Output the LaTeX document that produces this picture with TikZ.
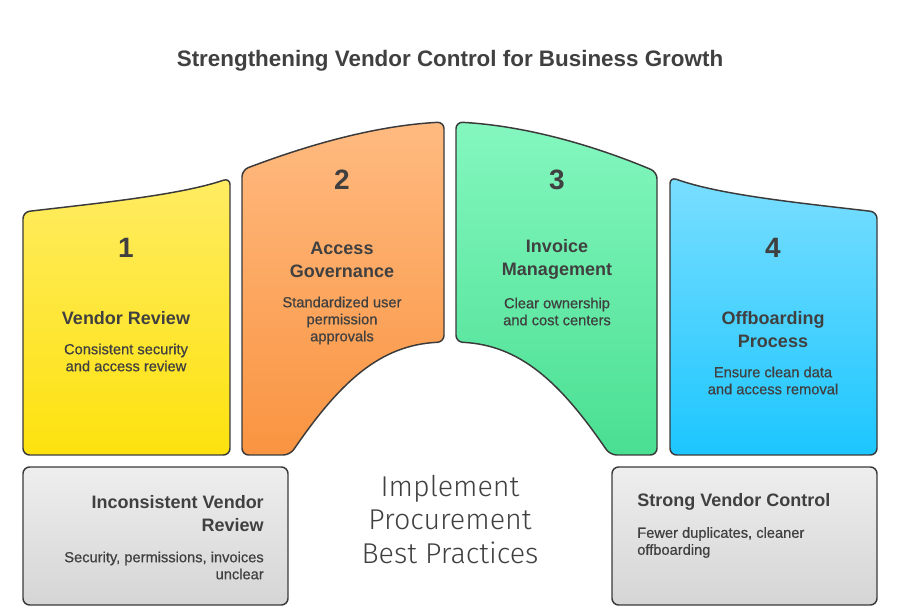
\documentclass[tikz,border=0pt]{standalone}
\usepackage{fontspec}
\setmainfont{Liberation Sans}
\newfontfamily\lightfont{Fira Sans Light}
\newfontfamily\mediumfont{Liberation Sans}[FakeBold=0.6]
\usepackage{tikz}
\usetikzlibrary{positioning}
\definecolor{ink}{HTML}{404040}
\definecolor{edge}{HTML}{3A3A3A}
\definecolor{yellowtop}{HTML}{FFEC62}
\definecolor{yellowbot}{HTML}{FDE20E}
\definecolor{orangetop}{HTML}{FFBA80}
\definecolor{orangebot}{HTML}{F99441}
\definecolor{greentop}{HTML}{84F7BF}
\definecolor{greenbot}{HTML}{4ADF92}
\definecolor{bluetop}{HTML}{7ADEFF}
\definecolor{bluebot}{HTML}{1CC6FF}
\definecolor{greytop}{HTML}{EEEEEE}
\definecolor{greybot}{HTML}{D5D5D5}

\tikzset{
  panel/.style={draw=edge, line width=1.1pt, rounded corners=5pt, line join=round},
  numtext/.style={text=ink, inner sep=0pt, font=\fontsize{21}{24}\selectfont\bfseries},
  headtext/.style={text=ink, inner sep=0pt, align=center, font=\fontsize{13.5}{17.25}\selectfont\bfseries},
  bodytext/.style={text=ink, inner sep=0pt, align=center, font=\fontsize{11}{12.75}\mediumfont}
}

\begin{document}
\begin{tikzpicture}[x=0.75pt, y=-0.75pt]
        \useasboundingbox (0,0) rectangle (900,609);
        % Title
        \node[text=ink, inner sep=0pt, font=\fontsize{16.8}{20}\selectfont\bfseries] (title) at (450,61)
          {Strengthening Vendor Control for Business Growth};
        % Panel 1
        \draw[panel, top color=yellowtop, bottom color=yellowbot]
          (23,212) .. controls (100,203) and (180,195) .. (230,178)
          -- (230,455) -- (23,455) -- cycle;
        % Panel 2
        \draw[panel, top color=orangetop, bottom color=orangebot]
          (242,170) .. controls (300,148) and (370,126) .. (444,122)
          -- (444,342) .. controls (380,345) and (340,382) .. (290,455)
          -- (242,455) -- cycle;
        % Panel 3
        \draw[panel, top color=greentop, bottom color=greenbot]
          (456,122) .. controls (530,126) and (600,148) .. (657,172)
          -- (657,455) -- (610,455) .. controls (560,382) and (520,345) .. (456,342)
          -- cycle;
        % Panel 4
        \draw[panel, top color=bluetop, bottom color=bluebot]
          (670,177) .. controls (720,195) and (800,203) .. (877,212)
          -- (877,455) -- (670,455) -- cycle;
        % Bottom boxes
        \draw[panel, top color=greytop, bottom color=greybot] (23,467) rectangle (288,605);
        \draw[panel, top color=greytop, bottom color=greybot] (612,467) rectangle (877,605);
        % Panel texts
        \node[numtext] (num1) at (126,248) {1};
        \node[headtext] (head1) at (126,318) {Vendor Review};
        \node[bodytext] (body1) at (126,357.5) {Consistent security\\and access review};
        \node[numtext] (num2) at (342,180) {2};
        \node[headtext] (head2) at (342,259.5) {Access\\Governance};
        \node[bodytext] (body2) at (342,320.5) {Standardized user\\permission\\approvals};
        \node[numtext] (num3) at (557,180) {3};
        \node[headtext] (head3) at (557,259.5) {Invoice\\Management};
        \node[bodytext] (body3) at (557,311.5) {Clear ownership\\and cost centers};
        \node[numtext] (num4) at (773,248) {4};
        \node[headtext] (head4) at (773,329.5) {Offboarding\\Process};
        \node[bodytext] (body4) at (773,380.5) {Ensure clean data\\and access removal};
        % Bottom texts
        \node[headtext, align=right, anchor=east] (before) at (264,513.5) {Inconsistent Vendor\\Review};
        \node[bodytext, align=right, anchor=east] (beforebody) at (264,565.5) {Security, permissions, invoices\\unclear};
        \node[text=ink, inner sep=0pt, align=center, font=\fontsize{21.5}{25}\lightfont] (middle) at (450,519.5)
          {Implement\\Procurement\\Best Practices};
        \node[headtext, align=left, anchor=west] (after) at (637,502) {Strong Vendor Control};
        \node[bodytext, align=left, anchor=west] (afterbody) at (637,542.5) {Fewer duplicates, cleaner\\offboarding};
      \end{tikzpicture}
\end{document}
